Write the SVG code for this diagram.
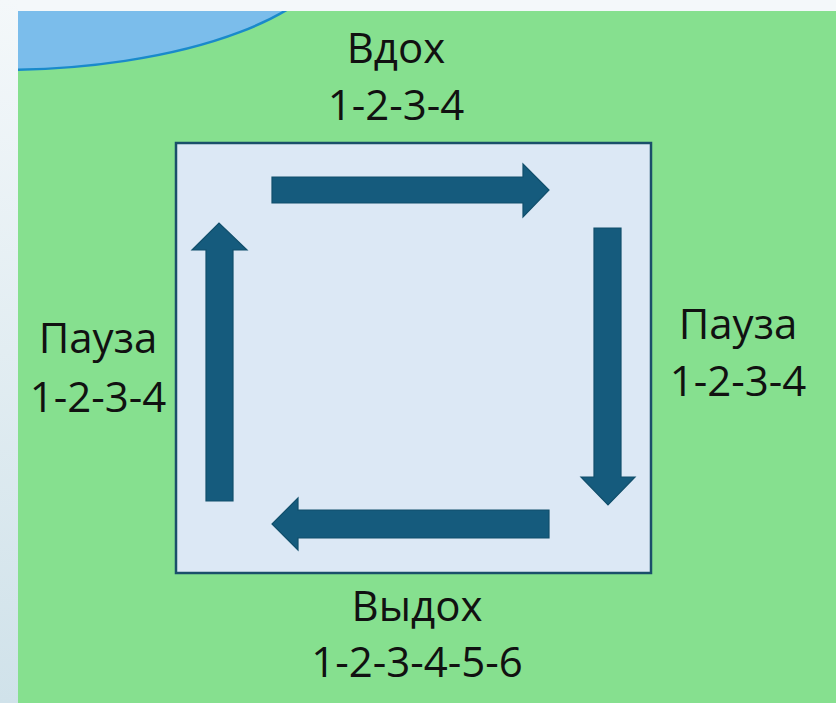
<svg xmlns="http://www.w3.org/2000/svg" width="836" height="703" viewBox="0 0 836 703">
<defs>
<linearGradient id="side" x1="0" y1="0" x2="0" y2="1">
<stop offset="0" stop-color="#F4F8FA"/>
<stop offset="1" stop-color="#D0E2EA"/>
</linearGradient>
<clipPath id="bgclip"><rect x="18" y="11" width="818" height="692"/></clipPath>
<style>
.lbl{font-family:"Open Sans","Liberation Sans",sans-serif;font-size:42px;fill:#111;text-anchor:middle}
.arr{fill:#155B7D;stroke:#114F6C;stroke-width:1.2;stroke-linejoin:miter}
</style>
</defs>
<rect x="0" y="0" width="836" height="703" fill="url(#side)"/>
<rect x="18" y="0" width="818" height="11" fill="#F4F8FA"/>
<rect x="18" y="11" width="818" height="692" fill="#86E08F"/>
<g clip-path="url(#bgclip)">
<ellipse cx="0" cy="-60" rx="340" ry="130" fill="#7BBDEB" stroke="#1A8ACB" stroke-width="2.5"/>
</g>
<g id="box">
<rect x="176" y="143" width="475" height="430" fill="#DCE8F5" stroke="#1A4F6A" stroke-width="2.5"/>
</g>
<g id="connectors">
<polygon class="arr" points="272,177 523,177 523,164 549,190 523,217 523,203 272,203"/>
<polygon class="arr" points="594,228 621,228 621,477 635,477 608,505 581,477 594,477"/>
<polygon class="arr" points="549,510 549,538 298,538 298,550 272,524 298,498 298,510"/>
<polygon class="arr" points="233,501 206,501 206,250 192,250 219,223 247,250 233,250"/>
</g>
<g id="top-label">
<text class="lbl" x="396" y="63">Вдох</text>
<text class="lbl" x="396" y="120">1-2-3-4</text>
</g>
<g id="right-label">
<text class="lbl" x="738" y="339">Пауза</text>
<text class="lbl" x="738" y="396">1-2-3-4</text>
</g>
<g id="bottom-label">
<text class="lbl" x="417" y="621">Выдох</text>
<text class="lbl" x="417" y="677">1-2-3-4-5-6</text>
</g>
<g id="left-label">
<text class="lbl" x="98" y="353">Пауза</text>
<text class="lbl" x="98" y="412">1-2-3-4</text>
</g>
</svg>
